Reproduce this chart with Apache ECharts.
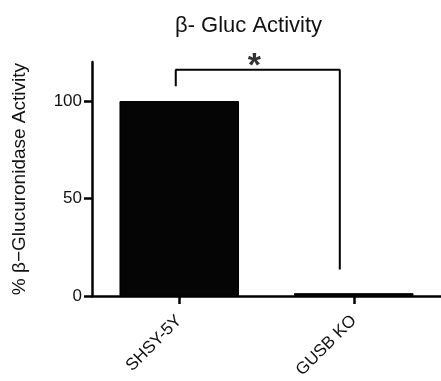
<!DOCTYPE html>
<html><head><meta charset="utf-8">
<script src="https://cdn.jsdelivr.net/npm/echarts@6/dist/echarts.min.js"></script>
<style>html,body{margin:0;padding:0;background:#fff}#c{width:441px;height:381px}</style>
</head><body><div id="c"></div>
<script>
const categories = ['SHSY-5Y', 'GUSB KO'];
const activity = [100, 1.5];
const yTicks = [0, 50, 100];
const bracketX = [-0.02, -0.02, 0.92, 0.92];
const bracketY = [107.6, 116, 116, 13.6];
const starPoint = [0.43, 116];

const chart = echarts.init(document.getElementById('c'), null, {renderer: 'canvas'});
const font = 'Liberation Sans, Arial, sans-serif';
chart.setOption({
  animation: false,
  title: {
    text: 'β- Gluc Activity', left: 170, top: 10,
    textStyle: {fontFamily: font, fontSize: 22, fontWeight: 'normal', color: '#111'}
  },
  grid: {left: 92, top: 62, width: 356, height: 237, containLabel: false},
  xAxis: [{
    type: 'category', data: categories, position: 'bottom',
    axisLine: {show: true, lineStyle: {color: '#000', width: 2.5}},
    axisTick: {show: true, interval: 0, alignWithLabel: true, length: 8, lineStyle: {color: '#000', width: 2.5}},
    axisLabel: {rotate: 45, interval: 0, fontFamily: font, fontSize: 17, color: '#111', margin: 22},
    splitLine: {show: false}
  }, {
    type: 'value', min: -0.5, max: 1.5, show: false, position: 'top'
  }],
  yAxis: {
    type: 'value', min: 0, max: 120, interval: 50,
    name: '% β−Glucuronidase Activity', nameLocation: 'middle', nameGap: 63,
    nameTextStyle: {fontFamily: font, fontSize: 19, color: '#111'},
    axisLine: {show: true, onZero: false, lineStyle: {color: '#000', width: 2.5}},
    axisTick: {show: true, length: 8, customValues: yTicks, lineStyle: {color: '#000', width: 2.5}},
    axisLabel: {fontFamily: font, fontSize: 17, color: '#111', margin: 10, customValues: yTicks},
    splitLine: {show: false}
  },
  series: [{
    type: 'bar', xAxisIndex: 0, data: activity, barWidth: '68.5%',
    itemStyle: {color: '#050505', borderColor: '#000', borderWidth: 1}
  }, {
    type: 'line', xAxisIndex: 1, symbol: 'none',
    data: bracketX.map((x, i) => [x, bracketY[i]]),
    lineStyle: {color: '#000', width: 2}
  }, {
    type: 'scatter', xAxisIndex: 1, symbolSize: 0, data: [starPoint],
    label: {show: true, position: 'top', distance: -14, formatter: '*',
      fontFamily: font, fontSize: 34, fontWeight: 'bold', color: '#000'}
  }]
});
</script></body></html>
